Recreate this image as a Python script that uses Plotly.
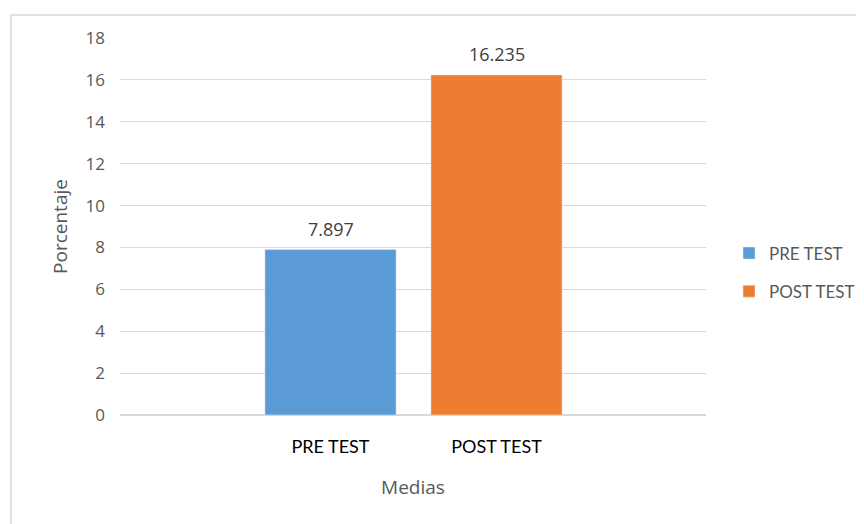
import plotly.graph_objects as go

categories = ["PRE TEST", "POST TEST"]
values = [7.897, 16.235]
labels = ["7.897", "16.235"]
colors = ["#5B9BD5", "#ED7D31"]

W, H = 856, 516
L, R, T, B = 112, 158, 30, 109
PW, PH = W - L - R, H - T - B

fig = go.Figure()
for c, v, col in zip(categories, values, colors):
    fig.add_trace(go.Bar(
        x=[c], y=[v], name=c, legendgroup=c, marker_color=col, width=0.79,
    ))

for c, v, t in zip(categories, values, labels):
    fig.add_annotation(x=c, y=v, text=t, showarrow=False, yanchor="middle",
                       yshift=21, font=dict(size=18, color="#404040", family="Open Sans"))

fig.update_layout(
    width=W, height=H,
    margin=dict(l=L, r=R, t=T, b=B, autoexpand=False),
    paper_bgcolor="white", plot_bgcolor="white",
    barmode="overlay",
    font=dict(family="Open Sans", color="#595959"),
    showlegend=True,
    legend=dict(xref="container", yref="container", x=721 / W, y=(H - 264.5) / H,
                xanchor="left", yanchor="middle", borderwidth=0,
                font=dict(size=17, color="#595959", family="Lato"), itemwidth=30,
                tracegroupgap=13),
    xaxis=dict(type="category", range=[-1.268, 2.262], showgrid=False,
               showline=False, ticks="", ticklabelstandoff=19,
               tickfont=dict(size=18, color="#000000", family="Lato"),
               title=dict(text="Medias", font=dict(size=19, color="#595959", family="Open Sans"), standoff=24)),
    yaxis=dict(range=[0, 18], dtick=2, showgrid=True, gridcolor="#d9d9d9",
               zeroline=True, zerolinecolor="#d9d9d9", zerolinewidth=1.5,
               ticks="", ticklabelstandoff=14, tickfont=dict(size=17, color="#595959", family="Open Sans"),
               title=dict(text="Porcentaje", font=dict(size=19, color="#595959", family="Open Sans"), standoff=12)),
    shapes=[dict(type="rect", xref="paper", yref="paper",
                 x0=(3 - L) / PW, x1=(900 - L) / PW,
                 y0=(H - B - 560) / PH, y1=(H - B - 7) / PH,
                 line=dict(color="#d9d9d9", width=1.5), fillcolor="rgba(0,0,0,0)", layer="below")],
)

fig.write_html("out.html")
